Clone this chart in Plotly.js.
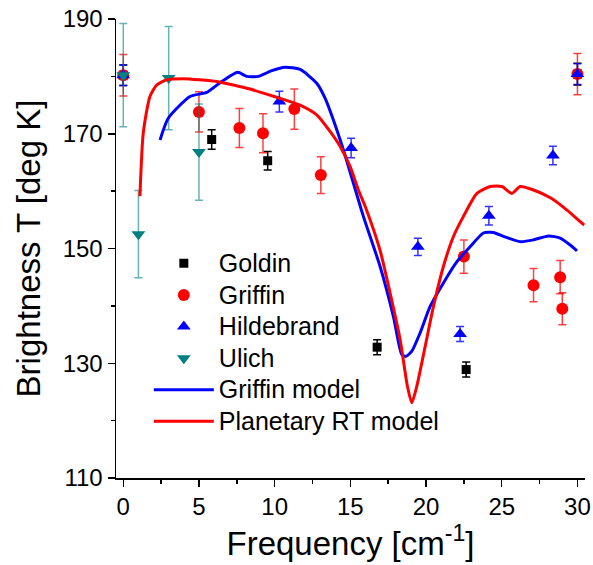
<!DOCTYPE html>
<html>
<head>
<meta charset="utf-8">
<script src="https://cdn.plot.ly/plotly-3.0.1.min.js"></script>
<style>
html, body { margin: 0; padding: 0; background: #fff; }
#chart { width: 593px; height: 565px; }
</style>
</head>
<body>
<div id="chart"></div>
<script>
// ---- Data ----
const goldinX = [0, 5.84, 9.54, 16.77, 22.65, 30.0];
const goldinY = [180.2, 169.0, 165.3, 132.8, 128.9, 180.4];
const goldinErr = [1.8, 1.7, 1.6, 1.3, 1.3, 1.9];

const griffinX = [0, 5.0, 7.67, 9.23, 11.3, 13.05, 22.5, 27.1, 28.86, 29.0, 30.0];
const griffinY = [180.2, 173.8, 171.0, 170.1, 174.3, 162.8, 148.6, 143.6, 145.0, 139.5, 180.4];
const griffinErr = [3.6, 3.5, 3.4, 3.4, 3.5, 3.2, 2.9, 2.9, 2.9, 2.8, 3.6];

const hildX = [0, 10.31, 15.05, 19.46, 22.25, 24.15, 28.38, 30.0];
const hildY = [180.2, 175.6, 167.5, 150.3, 135.1, 155.7, 166.2, 180.4];
const hildErr = [1.8, 1.8, 1.7, 1.5, 1.3, 1.6, 1.6, 1.8];

const ulichX = [0, 1.0, 3.0, 5.0];
const ulichY = [180.2, 152.5, 179.7, 166.8];
const ulichErr = [9.0, 7.6, 9.0, 8.4];

const griffinModelX = [2.43, 2.97, 4.41, 5.51, 6.50, 7.56, 8.16, 8.92, 9.81, 10.69, 11.68, 12.78, 13.33, 13.88, 14.54, 15.20, 15.86, 16.96, 17.85, 18.40, 18.68, 19.06, 19.61, 20.27, 21.15, 22.04, 22.91, 23.79, 24.45, 25.12, 26.22, 27.10, 28.09, 28.86, 29.52, 29.97];
const griffinModelY = [168.9, 172.7, 176.5, 177.2, 179.1, 180.7, 180.0, 180.0, 181.0, 181.6, 181.2, 178.8, 176.2, 172.4, 167.2, 161.4, 155.6, 146.9, 138.1, 131.5, 131.2, 132.1, 135.3, 139.9, 144.0, 147.7, 150.3, 152.7, 152.8, 152.1, 151.2, 151.5, 152.2, 151.8, 150.6, 149.6];

const rtModelX = [1.10, 1.32, 1.76, 2.21, 2.87, 3.97, 5.07, 6.17, 7.27, 8.37, 9.47, 10.57, 11.68, 12.78, 13.66, 14.32, 14.98, 15.53, 15.97, 16.96, 17.63, 18.29, 18.77, 19.06, 19.39, 19.94, 20.49, 21.15, 21.81, 22.47, 23.36, 24.24, 25.01, 25.67, 26.22, 27.10, 28.24, 29.31, 30.18, 30.45];
const rtModelY = [159.1, 170.1, 176.5, 178.5, 179.4, 179.6, 179.4, 179.1, 178.5, 177.8, 176.9, 176.0, 175.0, 173.3, 170.4, 167.8, 164.3, 160.2, 157.4, 149.7, 142.2, 134.1, 126.0, 123.1, 126.0, 132.9, 139.9, 146.9, 152.1, 155.6, 159.6, 160.8, 160.8, 159.6, 160.8, 160.2, 158.8, 156.7, 154.7, 154.1];

const seriesNames = ['Goldin', 'Griffin', 'Hildebrand', 'Ulich', 'Griffin model', 'Planetary RT model'];
const xTickVals = [0, 5, 10, 15, 20, 25, 30];
const yTickVals = [110, 130, 150, 170, 190];

const FONT = 'Liberation Sans, Arial, sans-serif';
const legName = n => '<span style="font-size:25px">' + n + '</span>';

function pts(name, x, y, err, color, errColor, symbol, size, group) {
  return {
    type: 'scatter', mode: 'markers', name: legName(name), x: x, y: y,
    legendgroup: group,
    marker: { color: color, symbol: symbol, size: size, line: { width: 0 } },
    error_y: { type: 'data', array: err, visible: true, color: errColor, thickness: 1.5, width: 4 },
    cliponaxis: false
  };
}

const traces = [
  pts(seriesNames[0], goldinX, goldinY, goldinErr, '#000000', '#000000', 'square', 9, 'g1'),
  pts(seriesNames[1], griffinX, griffinY, griffinErr, '#ff0000', 'rgba(255,0,0,0.75)', 'circle', 12, 'g2'),
  pts(seriesNames[2], hildX, hildY, hildErr, '#0000ff', 'rgba(0,0,255,0.8)', 'triangle-up', 12, 'g3'),
  pts(seriesNames[3], ulichX, ulichY, ulichErr, '#008080', 'rgba(0,128,128,0.6)', 'triangle-down', 12, 'g4'),
  { type: 'scatter', mode: 'lines', name: legName(seriesNames[4]), x: griffinModelX, y: griffinModelY,
    legendgroup: 'g5', line: { color: '#0000ff', width: 3, shape: 'spline', smoothing: 0.6 } },
  { type: 'scatter', mode: 'lines', name: legName(seriesNames[5]), x: rtModelX, y: rtModelY,
    legendgroup: 'g6', line: { color: '#ff0000', width: 3, shape: 'spline', smoothing: 0.6 } }
];

const layout = {
  width: 593, height: 565,
  margin: { l: 116, r: 8, t: 19, b: 87 },
  paper_bgcolor: '#ffffff', plot_bgcolor: '#ffffff',
  font: { family: FONT, color: '#000000', size: 24 },
  showlegend: true,
  legend: {
    x: 0.07, y: 0.513, xanchor: 'left', yanchor: 'top',
    bgcolor: 'rgba(0,0,0,0)', borderwidth: 0,
    font: { family: FONT, size: 22, color: '#000' },
    traceorder: 'grouped', tracegroupgap: 0, itemwidth: 60
  },
  xaxis: {
    range: [-0.48, 30.5], tickvals: xTickVals, ticktext: xTickVals.map(String),
    showgrid: false, zeroline: false, showline: true, linecolor: '#000', linewidth: 1.5,
    ticks: 'outside', ticklen: 7, tickwidth: 1.5, tickcolor: '#000',
    minor: { ticks: 'outside', ticklen: 4, tickwidth: 1.5, dtick: 2.5, tick0: 0, tickcolor: '#000', showgrid: false },
    tickfont: { family: FONT, size: 24 },
    title: { text: 'Frequency [cm<sup>-1</sup>]', font: { family: FONT, size: 33 }, standoff: 10 }
  },
  yaxis: {
    range: [110, 190], tickvals: yTickVals, ticktext: yTickVals.map(String),
    showgrid: false, zeroline: false, showline: true, linecolor: '#000', linewidth: 1.5,
    ticks: 'outside', ticklen: 7, tickwidth: 1.5, tickcolor: '#000',
    minor: { ticks: 'outside', ticklen: 4, tickwidth: 1.5, dtick: 10, tick0: 110, tickcolor: '#000', showgrid: false },
    tickfont: { family: FONT, size: 24 },
    title: { text: 'Brightness T [deg K]\u00a0\u00a0\u00a0\u00a0\u00a0\u00a0\u00a0\u00a0\u00a0', font: { family: FONT, size: 33 } }
  }
};

Plotly.newPlot('chart', traces, layout, { displayModeBar: false, staticPlot: true });
</script>
</body>
</html>
